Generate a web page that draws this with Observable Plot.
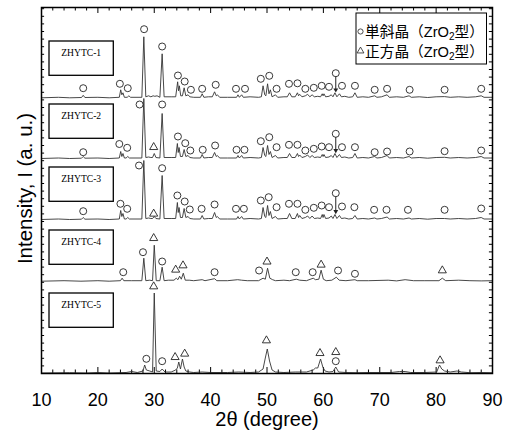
<!DOCTYPE html>
<html><head><meta charset="utf-8">
<script src="https://cdn.jsdelivr.net/npm/d3@7"></script>
<script src="https://cdn.jsdelivr.net/npm/@observablehq/plot@0.6"></script>
<style>
body{margin:0;background:#fff}
#wrap{position:relative;width:508px;height:430px;}
</style></head><body><div id="wrap"></div>
<script>
// ---- data (2θ in degrees, intensity in arbitrary units above each pattern's baseline) ----
const samples = ["ZHYTC-1", "ZHYTC-2", "ZHYTC-3", "ZHYTC-4", "ZHYTC-5"];
const offsets = [275.7, 215, 154, 92.3, 0.5];
const phaseNames = ["単斜晶（ZrO", "正方晶（ZrO"];
const xTickLabels = [10, 20, 30, 40, 50, 60, 70, 80, 90];

const trace1 = [[10,0],[13,0.5],[15,0],[17.1,0.3],[17.4,2.5],[17.7,0.3],[20,0.5],[22,0],[23.8,0.5],[24.05,8],[24.25,3],[24.45,5],[24.7,0.5],[25.2,0.5],[25.5,2],[25.8,0.5],[27.8,0.5],[28.15,61],[28.5,1],[29.0,2],[29.4,1],[29.8,2],[30.1,1.5],[30.5,2],[31.0,0.5],[31.4,44],[31.75,1],[33.0,1],[33.8,1],[34.15,16],[34.3,7],[34.45,12],[34.7,2],[35.0,2],[35.3,10],[35.6,2],[36.0,3],[36.3,1],[37.0,0.5],[38.2,0.5],[38.5,4],[38.8,0.5],[39.6,1],[40.3,1],[40.7,6],[41.0,2],[41.2,3],[41.6,0.5],[43,0.5],[44.6,0.5],[44.85,3],[45.1,0.5],[45.5,3],[45.8,0.5],[47,1],[48.5,0.5],[49.0,1],[49.3,12],[49.6,3],[49.8,2],[50.1,14],[50.35,4],[50.6,8],[50.9,1],[51.5,3],[51.9,0.5],[53.0,1],[53.6,1],[54.0,5],[54.4,1],[55.0,1],[55.4,5],[55.6,2],[55.8,3.5],[56.2,1],[56.8,2],[57.2,3.5],[57.6,1],[58.0,3],[58.4,1],[59.0,1.5],[59.5,1],[59.8,4],[59.95,2],[60.1,4],[60.4,1],[61.0,1.5],[61.4,3],[61.7,1],[62.05,5],[62.4,1],[62.85,4],[63.2,1],[63.8,1.5],[64.5,0.5],[65.2,1],[65.6,5],[66.0,0.5],[67,1],[68,0.5],[69.1,2],[69.5,0.5],[70.3,1],[71.3,3],[71.7,0.5],[73,1],[74.2,0.5],[75.2,2],[75.6,0.5],[77,1],[78.5,0.3],[80,1],[81.5,1.2],[82.5,0.5],[84,1],[85.5,0.5],[87,1],[88.0,2],[88.5,0.5],[90,0.5]];

const trace2 = [[10,0],[13,0.5],[15,0],[17.1,0.3],[17.4,2],[17.7,0.3],[20,0.5],[22,0],[23.8,0.5],[24.05,7],[24.25,2],[24.45,5],[24.7,0.5],[25.0,0.5],[25.3,2],[25.6,0.5],[27.8,0.5],[28.15,60],[28.5,1],[29.0,1.5],[29.4,1],[29.7,1],[30.0,5],[30.3,1],[31.0,0.5],[31.4,45],[31.75,1],[33.0,1],[33.8,1],[34.1,15],[34.25,6],[34.4,11],[34.65,2],[35.0,2],[35.3,9],[35.6,2],[36.0,3],[36.3,1],[37.0,0.5],[38.2,0.5],[38.5,4],[38.8,0.5],[39.6,1],[40.3,1],[40.7,6],[41.0,2],[41.2,3],[41.6,0.5],[43,0.5],[44.6,0.5],[44.85,3],[45.1,0.5],[45.5,3],[45.8,0.5],[47,1],[48.5,0.5],[49.0,1],[49.3,11],[49.6,3],[49.8,2],[50.1,13],[50.35,4],[50.6,7],[50.9,1],[51.5,3],[51.9,0.5],[53.0,1],[53.6,1],[54.0,5],[54.4,1],[55.0,1],[55.4,5],[55.6,2],[55.8,3.5],[56.2,1],[56.8,2],[57.2,3.5],[57.6,1],[58.0,3],[58.4,1],[59.0,1.5],[59.5,1],[59.8,4],[59.95,2],[60.1,4],[60.4,1],[61.0,1.5],[61.4,3],[61.7,1],[62.05,5],[62.4,1],[62.85,4],[63.2,1],[63.8,1.5],[64.5,0.5],[65.2,1],[65.6,5],[66.0,0.5],[67,1],[68,0.5],[69.1,2],[69.5,0.5],[70.3,1],[71.3,3],[71.7,0.5],[73,1],[74.2,0.5],[75.2,2],[75.6,0.5],[77,1],[78.5,0.3],[80,1],[81.5,1.2],[82.5,0.5],[84,1],[85.5,0.5],[87,1],[88.0,2],[88.5,0.5],[90,0.5]];

const trace3 = [[10,0],[13,0.5],[15,0],[17.1,0.3],[17.4,2],[17.7,0.3],[20,0.5],[22,0],[23.8,0.5],[24.05,9],[24.25,3],[24.45,6],[24.7,0.5],[25.0,0.5],[25.3,2],[25.6,0.5],[27.8,0.5],[28.15,59],[28.5,1],[29.0,1.5],[29.4,1],[29.7,1],[30.0,3],[30.3,1],[31.0,0.5],[31.4,44],[31.75,1],[33.0,1],[33.8,1],[34.1,17],[34.25,7],[34.4,12],[34.65,2],[35.0,2],[35.3,11],[35.6,2],[36.0,3],[36.3,1],[37.0,0.5],[38.2,0.5],[38.5,4],[38.8,0.5],[39.6,1],[40.3,1],[40.7,7],[41.0,2],[41.2,3],[41.6,0.5],[43,0.5],[44.6,0.5],[44.85,3],[45.1,0.5],[45.5,3],[45.8,0.5],[47,1],[48.5,0.5],[49.0,1],[49.3,12],[49.6,3],[49.8,2],[50.1,14],[50.35,4],[50.6,8],[50.9,1],[51.5,3],[51.9,0.5],[53.0,1],[53.6,1],[54.0,6],[54.4,1],[55.0,1],[55.4,6],[55.6,2],[55.8,4],[56.2,1],[56.8,2],[57.2,3.5],[57.6,1],[58.0,3.5],[58.4,1],[59.0,1.5],[59.5,1],[59.8,5],[59.95,2],[60.1,5],[60.4,1],[61.0,1.5],[61.4,3.5],[61.7,1],[62.05,5],[62.4,1],[62.85,4],[63.2,1],[63.8,1.5],[64.5,0.5],[65.2,1],[65.6,4],[66.0,0.5],[67,1],[68,0.5],[69.1,1.5],[69.5,0.5],[70.3,1],[71.3,2.5],[71.7,0.5],[73,1],[74.2,0.5],[75.2,1.5],[75.6,0.5],[77,1],[78.5,0.3],[80,1],[81.5,1],[82.5,0.5],[84,1],[85.5,0.5],[87,1],[88.0,2],[88.5,0.5],[90,0.5]];

const trace4 = [[10,0],[14,0.5],[17,0],[20,0.5],[22,0],[24.0,0.5],[24.3,3],[24.6,0.5],[26,0.5],[27.8,0.5],[28.15,23],[28.5,0.5],[29.2,1],[29.7,0.5],[30.0,36],[30.35,0.5],[31.0,0.5],[31.4,14],[31.75,0.5],[32.5,1],[33.5,1],[33.9,3],[34.2,1.5],[34.5,5],[34.8,2],[35.15,8],[35.5,1],[36.2,1],[37,0.5],[38.5,1.5],[39,0.5],[40.7,2.5],[41.1,0.5],[43,0.5],[44.8,1.5],[45.5,1],[46.5,0.5],[48.5,0.5],[49.3,3],[49.7,2],[50.1,13],[50.5,3],[51.0,1.5],[51.5,0.5],[53,1],[54,0.5],[55.2,2],[55.8,1],[57,0.5],[58.2,3],[58.6,1.5],[59.2,2],[59.6,11],[60.0,2],[60.5,0.5],[61.5,1],[62.3,4],[62.8,1],[64,0.5],[65.6,1.5],[66,0.5],[68,0.5],[71.5,1],[73,0.3],[74.5,1.5],[76,0.5],[78,0.5],[80.5,0.5],[81.1,3],[81.7,0.5],[84,1],[86,0.5],[88,0.3],[90,0.5]];

const trace5 = [[10,0],[15,0.3],[18,0],[20,0.5],[22,0],[25,0.5],[26,1.5],[27,0.5],[28.0,2],[28.3,8],[28.6,3],[29.2,2],[29.7,1],[30.0,80],[30.35,2],[31.0,1.5],[31.4,4],[31.9,1],[33,1],[33.8,3],[34.1,5],[34.35,11],[34.65,4],[35.0,14],[35.3,6],[35.6,2],[36.3,1],[37,0.5],[38.5,1],[40,0.5],[43,0.5],[45,1],[47,0.5],[48.5,1],[49.3,4],[49.7,15],[50.05,24],[50.45,12],[50.9,3],[51.5,1],[53,0.5],[55,1],[57,1],[58.2,3],[58.6,5],[59.0,5],[59.5,14],[59.9,6],[60.3,2],[61.0,1],[61.7,1.5],[62.2,6],[62.7,1],[64,0.5],[66,0.3],[68,0.5],[72,0.5],[73.5,1.5],[74.5,1.5],[75.5,0.5],[78,0.5],[80.1,1],[80.6,8],[81.0,4],[81.5,2],[82.5,1],[83.7,2],[84.5,1],[86,0.3],[88,0.5],[90,0.3]];

// phase markers: [2θ, height above baseline]
const circles1 = [[17.4,9.6],[23.9,14],[25.3,9.6],[28.2,68.6],[31.4,51.3],[34.2,22.3],[35.4,16.3],[36.5,8],[38.5,9],[40.9,13],[44.5,9],[46.1,9],[48.9,19],[50.4,22],[51.7,9],[53.9,14],[55.4,14.5],[56.8,9],[58.3,10],[59.7,12],[61.0,11],[62.2,24.6],[63.3,12],[65.6,12],[69.1,8],[71.3,9],[75.3,8],[81.5,8],[88.0,9]];
const circles2 = [[17.4,6.3],[23.8,14.5],[25.2,10.7],[27.4,54],[31.4,54],[34.2,22],[35.5,15.3],[36.4,8],[38.6,8.7],[40.8,13],[44.6,8.7],[46.0,8.7],[48.9,17.3],[50.4,21.3],[51.7,11.3],[53.9,13.7],[55.4,13.7],[56.8,8],[58.3,9.7],[59.7,12],[61.0,11.3],[62.2,24.7],[63.3,11.3],[65.6,11.3],[69.1,6.3],[71.3,7],[75.3,7],[81.5,7.3],[88.0,8]];
const circles3 = [[17.4,8.3],[24.0,15.7],[25.2,10.7],[27.3,54],[31.4,51.3],[34.1,24],[35.4,18],[36.3,10],[38.4,10.7],[40.7,15],[44.5,10.7],[45.9,10.7],[48.9,19],[50.3,22.3],[51.7,12.3],[53.9,15.7],[55.4,15.7],[56.8,9.7],[58.3,11.7],[59.7,14],[61.0,12.3],[62.2,26.3],[63.3,13],[65.5,12.3],[69.0,9.7],[71.2,9.7],[75.0,9.7],[81.5,9.7],[88.0,11]];
const circles4 = [[24.5,9],[28.0,29],[31.4,19.7],[40.7,9],[48.6,10.7],[55.1,9],[58.1,9],[62.6,10.7],[65.6,7.4]];
const circles5 = [[28.6,14.2],[31.4,11.8],[62.2,11.8]];
const triangles2 = [[29.9,11.3]];
const triangles3 = [[29.9,5.7]];
const triangles4 = [[29.9,43],[33.8,11.4],[35.1,15.7],[50.0,19.5],[59.6,16.4],[81.1,10.7]];
const triangles5 = [[29.9,86.5],[33.7,15.8],[35.4,19.2],[49.9,32.5],[59.4,19.8],[62.2,20.8],[80.7,12.5]];
// arrows (trace index, 2θ, from height, to height)
const arrows = [[0,62.2,21,8],[1,62.2,21,8],[2,62.2,22.5,8]];

const traces = [trace1, trace2, trace3, trace4, trace5];
const circleSets = [circles1, circles2, circles3, circles4, circles5];
const triangleSets = [[], triangles2, triangles3, triangles4, triangles5];

const lineData = traces.flatMap((t, i) => t.map(([x, v]) => ({sample: samples[i], x, y: offsets[i] + v})));
const circleData = circleSets.flatMap((t, i) => t.map(([x, v]) => ({x, y: offsets[i] + v})));
const triData = triangleSets.flatMap((t, i) => t.map(([x, v]) => ({x, y: offsets[i] + v})));
const arrowData = arrows.map(([i, x, a, b]) => ({x, y1: offsets[i] + a, y2: offsets[i] + b}));

const xMinor = d3.range(10, 90.01, 2);
const yTicks = d3.range(0, 366, 7.6);
const Y_TOP = 366;
const ink = "#222";

const plot = Plot.plot({
  width: 508, height: 430,
  marginLeft: 41, marginRight: 16, marginTop: 7, marginBottom: 57,
  x: {domain: [10, 90]},
  y: {domain: [0, Y_TOP], axis: null},
  style: {fontFamily: "'Liberation Sans', Arial, sans-serif", background: "white", color: "black"},
  marks: [
    Plot.ruleX(xMinor, {x: d => d, y1: 0, y2: d => d % 10 === 0 ? 6 : 3.5, stroke: "black"}),
    Plot.ruleX(xMinor, {x: d => d, y1: d => Y_TOP - (d % 10 === 0 ? 6 : 3.5), y2: Y_TOP, stroke: "black"}),
    Plot.ruleY(yTicks, {y: d => d, x1: 10, x2: 10.55, stroke: "black"}),
    Plot.ruleY(yTicks, {y: d => d, x1: 89.45, x2: 90, stroke: "black"}),
    Plot.line(lineData, {x: "x", y: "y", z: "sample", stroke: "#333", strokeWidth: 0.9}),
    Plot.dot(circleData, {x: "x", y: "y", r: 3.5, stroke: ink, strokeWidth: 0.9, fill: "none"}),
    Plot.dot(triData, {x: "x", y: "y", symbol: "triangle", r: 3, stroke: ink, strokeWidth: 0.9, fill: "none"}),
    Plot.ruleX(arrowData, {x: "x", y1: "y1", y2: "y2", stroke: ink, strokeWidth: 1}),
    Plot.dot(arrowData, {x: "x", y: "y2", symbol: "triangle", rotate: 180, r: 1.8, fill: ink, stroke: "none"}),
    Plot.frame({stroke: "black", strokeWidth: 1.5}),
    Plot.axisX({ticks: xTickLabels, tickSize: 0, tickPadding: 20, fontSize: 18, label: null}),
    Plot.text(["2θ (degree)"], {frameAnchor: "bottom", textAnchor: "middle", lineAnchor: "middle", dy: 46.5, fontSize: 20}),
    Plot.text(["Intensity, I (a. u.)"], {frameAnchor: "left", textAnchor: "middle", lineAnchor: "middle", rotate: -90, dx: -15.7, dy: -2, fontSize: 20.5})
  ]
});
document.getElementById("wrap").appendChild(plot);

// sample name boxes and phase legend (annotation layer)
const svg = d3.select(plot);
const g = svg.append("g").attr("text-anchor", "middle");
samples.forEach((name, i) => {
  const top = 41 + i * 63;
  g.append("rect").attr("x", 49).attr("y", top).attr("width", 64.3).attr("height", 34.3)
    .attr("fill", "none").attr("stroke", "black").attr("stroke-width", 1.3);
  g.append("text").attr("x", 81.2).attr("y", top + 15.3)
    .attr("font-family", "'Liberation Serif', 'Times New Roman', serif").attr("font-size", 9.6)
    .attr("fill", "black").text(name);
});
const lg = svg.append("g").attr("text-anchor", "start");
lg.append("rect").attr("x", 356).attr("y", 13).attr("width", 130.5).attr("height", 51)
  .attr("fill", "white").attr("stroke", "black").attr("stroke-width", 1);
lg.append("circle").attr("cx", 360.5).attr("cy", 31.5).attr("r", 2.6).attr("fill", "none").attr("stroke", ink).attr("stroke-width", 0.8);
lg.append("path").attr("d", d3.symbol(d3.symbolTriangle, 20)()).attr("transform", "translate(360.5,51)")
  .attr("fill", "none").attr("stroke", ink).attr("stroke-width", 0.8);
phaseNames.forEach((name, i) => {
  const t = lg.append("text").attr("x", 365).attr("y", 37 + i * 20).attr("text-anchor", "start")
    .attr("font-family", "'Liberation Sans', 'Noto Sans CJK JP', sans-serif").attr("font-size", 14.7).attr("fill", "black");
  t.append("tspan").text(name);
  t.append("tspan").attr("font-size", 10).attr("dy", 3).text("2");
  t.append("tspan").attr("dy", -3).text("型）");
});
</script></body></html>
